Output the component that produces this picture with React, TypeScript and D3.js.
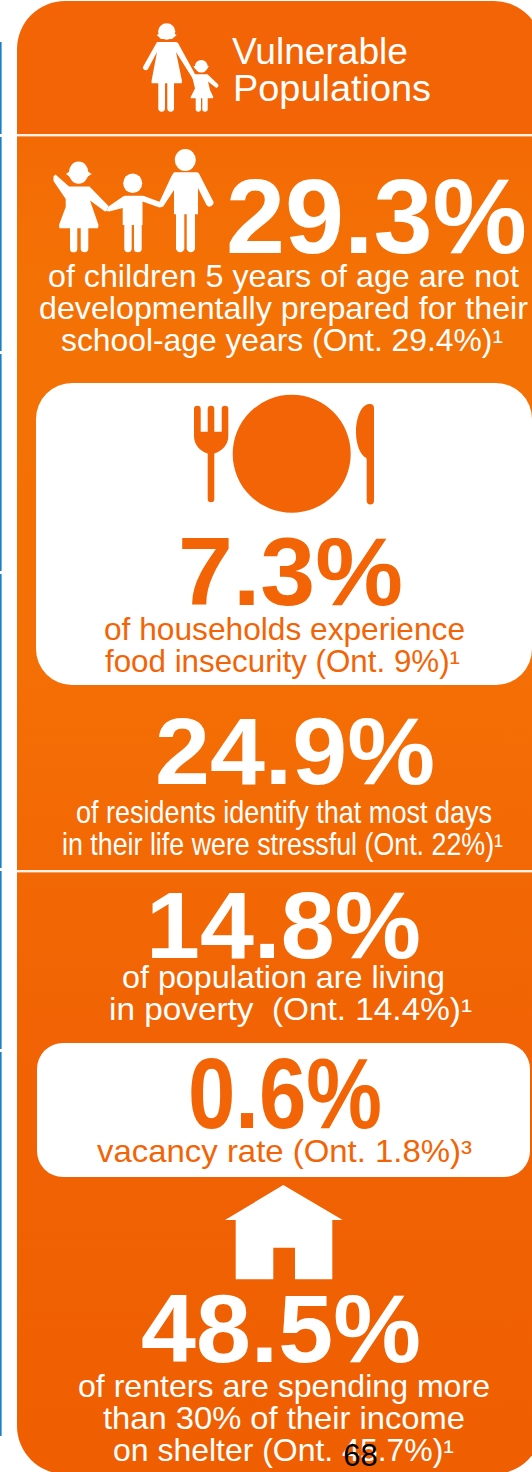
import React, { useEffect, useRef } from "react";
import * as d3 from "d3";

// Text content
const headerLines = ["Vulnerable", "Populations"];
const statValues = ["29.3%", "7.3%", "24.9%", "14.8%", "0.6%", "48.5%"];
const statCaptions = [
  ["of children 5 years of age are not", "developmentally prepared for their", "school-age years (Ont. 29.4%)¹"],
  ["of households experience", "food insecurity (Ont. 9%)¹"],
  ["of residents identify that most days", "in their life were stressful (Ont. 22%)¹"],
  ["of population are living", "in poverty  (Ont. 14.4%)¹"],
  ["vacancy rate (Ont. 1.8%)³"],
  ["of renters are spending more", "than 30% of their income", "on shelter (Ont. 45.7%)¹"],
];
const pageNumber = "68";

// Layout, separate from the content
const statLayout = [
  { x0: 226, x1: 527, base: 252.5, size: 105, fill: "#fff", caps: [{ x0: 48, x1: 519, y: 287 }, { x0: 39, x1: 528, y: 319 }, { x0: 61, x1: 503, y: 351 }] },
  { x0: 178, x1: 403, base: 604.5, size: 97, fill: "#f26405", caps: [{ x0: 104, x1: 465, y: 640 }, { x0: 105, x1: 460, y: 672 }] },
  { x0: 155, x1: 435, base: 784, size: 94, fill: "#fff", caps: [{ x0: 76, x1: 492, y: 823 }, { x0: 62, x1: 503, y: 855 }] },
  { x0: 146, x1: 421, base: 958, size: 94, fill: "#fff", caps: [{ x0: 122, x1: 445, y: 988 }, { x0: 109, x1: 472, y: 1020 }] },
  { x0: 188, x1: 382, base: 1128, size: 100, fill: "#f26405", caps: [{ x0: 97, x1: 472, y: 1162 }] },
  { x0: 141, x1: 421, base: 1362, size: 97, fill: "#fff", caps: [{ x0: 78, x1: 490, y: 1397 }, { x0: 103, x1: 465, y: 1429 }, { x0: 113, x1: 454, y: 1461 }] },
];
const whiteBoxes = [
  { x: 36, y: 383, w: 496, h: 302, r: 36 },
  { x: 37, y: 1043, w: 493, h: 134, r: 26 },
];
const dividers = [135, 871];
const blueStrips = [[42, 134], [137, 351], [354, 571], [574, 868], [871, 1049], [1052, 1436]];

const font = "'Liberation Sans', Arial, sans-serif";

// leg or stem with a round end
const leg = (x0: number, x1: number, top: number, bottom: number) => {
  const p = d3.path();
  const r = (x1 - x0) / 2;
  p.moveTo(x0, top);
  p.lineTo(x0, bottom - r);
  p.arc(x0 + r, bottom - r, r, Math.PI, 0, true);
  p.lineTo(x1, top);
  p.closePath();
  return p.toString();
};

const ellipse = (cx: number, cy: number, rx: number, ry: number) =>
  `M${cx - rx} ${cy}a${rx} ${ry} 0 1 1 ${2 * rx} 0a${rx} ${ry} 0 1 1 ${-2 * rx} 0z`;

const App = () => {
  const svgRef = useRef<SVGSVGElement>(null);

  useEffect(() => {
    const svg = d3.select(svgRef.current);
    svg.selectAll("*").remove();

    const grad = svg.append("defs").append("linearGradient")
      .attr("id", "panel").attr("gradientUnits", "userSpaceOnUse")
      .attr("x1", 0).attr("x2", 0).attr("y1", 0).attr("y2", 1472);
    [[0, "#f26405"], [0.091, "#f26405"], [0.093, "#f36a05"], [0.2, "#f47205"], [0.45, "#f46f05"], [0.7, "#f16304"], [1, "#ef5f02"]]
      .forEach(([o, c]) => grad.append("stop").attr("offset", o as number).attr("stop-color", c as string));

    // blue edge of the neighbouring column
    svg.selectAll(".strip").data(blueStrips).enter().append("rect")
      .attr("x", 0).attr("width", 1.6)
      .attr("y", (d) => d[0]).attr("height", (d) => d[1] - d[0])
      .attr("fill", "#1b7fc3");

    // panel
    svg.append("rect").attr("x", 17).attr("y", 1).attr("width", 525).attr("height", 1473)
      .attr("rx", 48).attr("fill", "url(#panel)");

    svg.selectAll(".divider").data(dividers).enter().append("rect")
      .attr("x", 17).attr("width", 515).attr("y", (d) => d - 1).attr("height", 2.4)
      .attr("fill", "#fdf1e6");

    svg.selectAll(".box").data(whiteBoxes).enter().append("rect")
      .attr("x", (d) => d.x).attr("y", (d) => d.y)
      .attr("width", (d) => d.w).attr("height", (d) => d.h).attr("rx", (d) => d.r)
      .attr("fill", "#fff");

    const drawIcon = (paths: string[], fill: string) => {
      const g = svg.append("g").attr("fill", fill);
      paths.forEach((p) => g.append("path").attr("d", p));
    };

    // woman and child in the header
    drawIcon([
      ellipse(166.7, 31.5, 8.6, 8.2),
      "M156.700 35L161 33L172 33L176.700 35L172 39H161z",
      "M157 42H176L178 43L195.500 75L193 79L176 52L182 81L181.700 83.300H151.700L151.500 81L157 52L148 69A2.500 2.500 0 0 1 143.500 66z",
      leg(158.3, 165, 82, 111.7),
      leg(167.3, 174, 82, 111.7),
      ellipse(201.3, 66.3, 6.3, 6.3),
      "M193.500 66L209 66L207 69H195z",
      "M193.500 74.300H207.500L217.800 84A2 2 0 0 1 215 87L208 81.500L210 90L213.300 97L213 98.300H190.700L190.700 97L195 88.500L192 76z",
      leg(195.7, 201, 97, 111.7),
      leg(202.3, 207.7, 97, 111.7),
    ], "#fff");

    // three children on the first stat
    drawIcon([
      ellipse(78.6, 172.6, 9.8, 11.2),
      "M66 174L70 171H87L91.700 174L87 177H70z",
      "M53.500 176.500L55.500 174.500L68.500 186L69 186.500H89.500L108.500 206L106.500 211L105 211.500L90 200.500L98.500 225L98 228.300H59.500L59 225L65.700 207V199L53.500 181z",
      leg(70, 77.3, 227, 252.3),
      leg(80.7, 88.3, 227, 252.3),
      ellipse(132.7, 183.3, 9.5, 9.8),
      "M108.500 206.500L123 196.500L125 195.700H142L144 196L160 202L162 207L159.500 207.500L142.500 201.500V225H122.700V208L109 211.500L106.500 211z",
      leg(124.3, 131.7, 224, 252.3),
      leg(134, 141.7, 224, 252.3),
      ellipse(185.3, 160, 10.5, 11),
      "M158.500 204L171.500 176L174 172.300H197.500L199 173.500L212.500 200A3.800 3.800 0 0 1 206.500 205L198 188V214.300H174V190L163 206.700L159.500 207z",
      leg(176, 184.3, 213, 252.3),
      leg(186.7, 195, 213, 252.3),
    ], "#fff");

    // fork, plate, knife
    drawIcon([
      "M194 409A3.300 3.300 0 0 1 200.700 409V431.700H207.700V409A3.300 3.300 0 0 1 214.300 409V431.700H221.700V409A3.300 3.300 0 0 1 228.300 409V436C228.300 445 222 451 214.300 453.500H207.700C200 451 194 445 194 436z",
      leg(207.7, 214.3, 450, 502.3),
      ellipse(291.7, 453.8, 59, 59),
      "M374 408V460H366.700V458.300C360 455 356 444 356 432C356 418 361 405 369 404C372 403.500 374 405 374 408z",
      leg(366.7, 374, 450, 504.5),
    ], "#f26405");

    // house
    drawIcon([
      "M283.300 1185L342.700 1220H332.300V1279.300H295V1247.700H273.300V1279.300H235.700V1220H225z",
    ], "#fff");

    const fitText = (
      s: string, x0: number, x1: number, y: number, size: number,
      fill: string, weight: string,
    ) => {
      svg.append("text")
        .attr("x", x0).attr("y", y)
        .attr("font-family", font).attr("font-size", size).attr("font-weight", weight)
        .attr("fill", fill)
        .attr("textLength", x1 - x0).attr("lengthAdjust", "spacingAndGlyphs")
        .attr("xml:space", "preserve")
        .text(s);
    };

    fitText(headerLines[0], 232, 408, 63.5, 37, "#fff", "normal");
    fitText(headerLines[1], 233, 431, 100.5, 37, "#fff", "normal");

    statValues.forEach((v, i) => {
      const l = statLayout[i];
      fitText(v, l.x0, l.x1, l.base, l.size, l.fill, "bold");
      statCaptions[i].forEach((c, j) => {
        const cap = l.caps[j];
        fitText(c, cap.x0, cap.x1, cap.y, 30.5, l.fill, "normal");
      });
    });

    svg.append("text").attr("x", 360.5).attr("y", 1466).attr("text-anchor", "middle")
      .attr("font-family", font).attr("font-size", 31).attr("fill", "#000")
      .text(pageNumber);
  }, []);

  return (
    <svg ref={svgRef} width={532} height={1472}
      style={{ position: "absolute", left: 0, top: 0, background: "#fff" }} />
  );
};

export default App;
